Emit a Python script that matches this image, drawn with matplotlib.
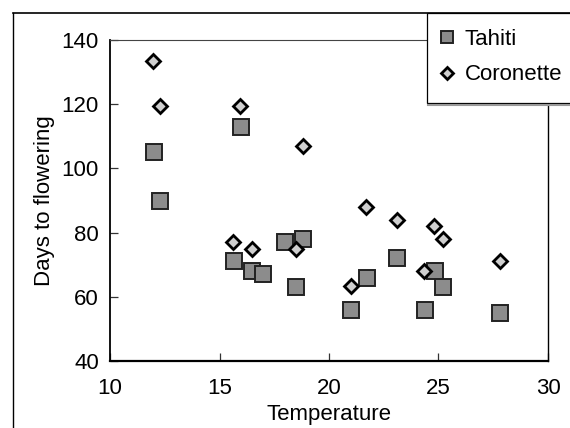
import matplotlib.pyplot as plt
from matplotlib.lines import Line2D
from matplotlib.patches import Rectangle

# Tahiti (squares)
tahiti_temp = [12.0, 12.3, 16.0, 15.65, 16.5, 17.0, 18.0, 18.8, 18.5,
               23.1, 21.75, 24.85, 25.2, 21.0, 24.4, 27.8]
tahiti_days = [105, 90, 113, 71, 68, 67, 77, 78, 63,
               72, 66, 68, 63, 56, 56, 55]

# Coronette (diamonds)
coronette_temp = [11.95, 12.3, 15.95, 18.8, 15.6, 16.5, 18.5,
                  21.7, 23.1, 24.8, 25.2, 21.0, 24.35, 27.8]
coronette_days = [133.5, 119.5, 119.5, 107, 77, 75, 75,
                  88, 84, 82, 78, 63.5, 68, 71]

plt.rcParams['font.family'] = ['Liberation Sans', 'DejaVu Sans']

W, H = 570, 428
fig = plt.figure(figsize=(W / 100, H / 100), dpi=100)
ax = fig.add_axes([110 / W, 1 - 361 / H, 438 / W, 321 / H])

ax.plot(tahiti_temp, tahiti_days, 's', ms=11, mfc='#8c8c8c', mec='#222222',
        mew=1.4, linestyle='none', label='Tahiti')
ax.plot(coronette_temp, coronette_days, 'D', ms=7.5, mfc='#cfcfcf', mec='black',
        mew=2.0, linestyle='none', label='Coronette')

ax.set_xlim(10, 30)
ax.set_ylim(40, 140)
ax.set_xticks([10, 15, 20, 25, 30])
ax.set_yticks([40, 60, 80, 100, 120, 140])
ax.tick_params(direction='in', length=6, width=0.9, labelsize=16, color='#333333')
ax.tick_params(axis='x', pad=12)
ax.tick_params(axis='y', pad=8)
ax.set_xlabel('Temperature', fontsize=16, labelpad=4)
ax.set_ylabel('Days to flowering', fontsize=16, labelpad=5)

ax.spines['left'].set_linewidth(1.3)
ax.spines['bottom'].set_linewidth(1.6)
ax.spines['top'].set_linewidth(0.8)
ax.spines['top'].set_color('#444444')
ax.spines['right'].set_linewidth(1.0)

# legend box (runs off the right edge like the original)
fig.add_artist(Rectangle((427 / W, 1 - 103 / H), 160 / W, 90 / H,
                         transform=fig.transFigure, facecolor='white',
                         edgecolor='black', lw=0.9, zorder=5))
fig.add_artist(Line2D([428 / W, 1], [1 - 105 / H, 1 - 105 / H],
                      color='#999999', lw=1.5, zorder=5))
handles, labels = ax.get_legend_handles_labels()
leg = fig.legend(handles, labels, loc='upper left',
                 bbox_to_anchor=(440 / W, 1 - 29 / H), borderaxespad=0,
                 fontsize=16, frameon=False, markerscale=0.75,
                 handlelength=0.6, handletextpad=0.5, borderpad=0,
                 labelspacing=0.65)
leg.set_zorder(6)

# outer chart frame
fig.add_artist(Line2D([13 / W, 13 / W], [0, 1 - 13 / H], color='black', lw=1.0))
fig.add_artist(Line2D([13 / W, 1], [1 - 13 / H, 1 - 13 / H], color='black', lw=1.2))

fig.savefig('out.png', dpi=100)
